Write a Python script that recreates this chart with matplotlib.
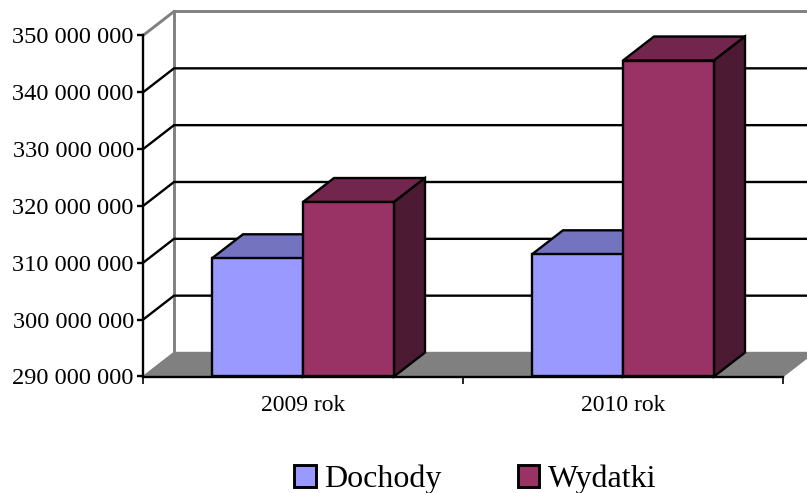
import matplotlib
matplotlib.use('Agg')
import matplotlib.pyplot as plt
from matplotlib.patches import Patch

plt.rcParams['font.family'] = ['Liberation Serif', 'DejaVu Serif']

categories = ['2009 rok', '2010 rok']
dochody = [310800000, 311500000]
wydatki = [320700000, 345600000]
yticks = [290000000, 300000000, 310000000, 320000000, 330000000, 340000000, 350000000]
ytick_labels = ['290 000 000', '300 000 000', '310 000 000', '320 000 000',
                '330 000 000', '340 000 000', '350 000 000']

W, H = 807, 493
# front plane of the chart, in pixels
left, right, bottom, top = 143, 783, 376.5, 35.5
ymin, ymax = 290000000, 350000000

fig = plt.figure(figsize=(W / 100, H / 100), dpi=100)
ax = fig.add_axes([left / W, 1 - bottom / H, (right - left) / W, (bottom - top) / H])
ax.set_xlim(0, 2)
ax.set_ylim(ymin, ymax)

# depth offset of the fake 3d
dx = 31 / (right - left) * 2
dy = 24 / (bottom - top) * (ymax - ymin)
bar_w = 91 / (right - left) * 2
lw = 1.7
edge = dict(edgecolor='black', linewidth=lw, joinstyle='miter', clip_on=False)


def box(x0, x1, val, front, top_c, side_c, z):
    ax.fill([x0, x1, x1 + dx, x0 + dx], [val, val, val + dy, val + dy],
            facecolor=top_c, zorder=z, **edge)
    ax.fill([x1, x1 + dx, x1 + dx, x1], [ymin, ymin + dy, val + dy, val],
            facecolor=side_c, zorder=z, **edge)
    ax.bar(x0, val - ymin, bottom=ymin, width=x1 - x0, align='edge',
           color=front, zorder=z + 0.5, **edge)


# floor and back wall
ax.fill([0, 2, 2 + dx, dx], [ymin, ymin, ymin + dy, ymin + dy], facecolor='#808080',
        edgecolor='#808080', linewidth=1, clip_on=False, zorder=1)
ax.plot([dx, dx], [ymin + dy, ymax + dy], color='#808080', lw=2.1, clip_on=False, zorder=1)
for v in yticks[1:]:
    col = '#808080' if v == ymax else 'black'
    ax.plot([0, dx, 2 + dx], [v, v + dy, v + dy], color=col, lw=2.1 if v == ymax else lw,
            clip_on=False, zorder=1.5, solid_joinstyle='miter')

for i in range(len(categories)):
    c = i + 0.5
    box(c - bar_w, c, dochody[i], '#9999FF', '#7373BF', '#4D4D80', 3)
    box(c, c + bar_w, wydatki[i], '#993366', '#73264D', '#4D1A33', 4 + i)

for s in ['top', 'right']:
    ax.spines[s].set_visible(False)
for s in ['left', 'bottom']:
    ax.spines[s].set_linewidth(lw)
    ax.spines[s].set_zorder(10)

ax.set_yticks(yticks)
ax.set_yticklabels(ytick_labels, fontsize=17.6)
ax.tick_params(axis='y', length=4.5, width=lw, pad=2)
ax.set_xticks([0, 1, 2])
ax.set_xticklabels([])
ax.set_xticks([0.5, 1.5], minor=True)
ax.set_xticklabels(categories, minor=True, fontsize=17)
ax.tick_params(axis='x', which='major', length=5, width=1.2)
ax.tick_params(axis='x', which='minor', length=0, pad=13)

handles = [Patch(facecolor='#9999FF', edgecolor='black', linewidth=2.1),
           Patch(facecolor='#993366', edgecolor='black', linewidth=2.1)]
fig.legend(handles, ['Dochody', 'Wydatki'], ncol=2, frameon=False, fontsize=23,
           loc='center', bbox_to_anchor=(475 / W, 1 - 479.5 / H),
           handlelength=0.68, handleheight=0.68, handletextpad=0.25, columnspacing=2.4,
           borderpad=0, borderaxespad=0)

fig.savefig('out.png', dpi=100)
